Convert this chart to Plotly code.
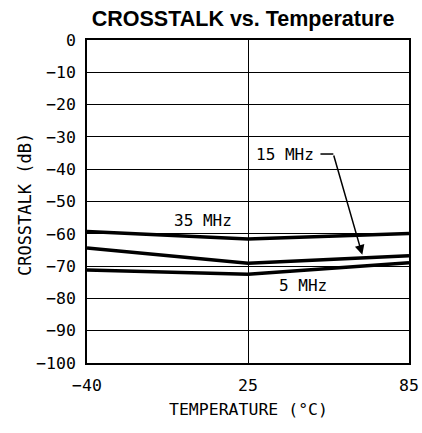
import plotly.graph_objects as go

temps = ["-40", "25", "85"]
temp_labels = ["\u221240", "25", "85"]
x_pos = [0, 1, 2]
xt_35 = [-59.3, -61.6, -59.9]
xt_15 = [-64.4, -69.1, -66.8]
xt_5 = [-71.2, -72.5, -69.0]
y_ticks = [0, -10, -20, -30, -40, -50, -60, -70, -80, -90, -100]
y_labels = ["0" if v == 0 else "\u2212" + str(-v) for v in y_ticks]

MONO = "DejaVu Sans Mono"

fig = go.Figure()
for ys in (xt_35, xt_15, xt_5):
    fig.add_trace(go.Scatter(x=x_pos, y=ys, mode="lines",
                             line=dict(color="black", width=3.5),
                             showlegend=False, hoverinfo="skip"))

font_lbl = dict(family=MONO, size=16, color="black")
fig.add_annotation(x=0.72, y=-56.0, text="35 MHz", showarrow=False, font=font_lbl)
fig.add_annotation(x=1.34, y=-76.0, text="5 MHz", showarrow=False, font=font_lbl)
fig.add_annotation(x=1.23, y=-35.5, text="15 MHz", showarrow=False, font=font_lbl)
# arrow leader from label
fig.add_shape(type="line", x0=1.45, x1=1.53, y0=-35.3, y1=-35.3,
              line=dict(color="black", width=1.5))
fig.add_annotation(x=1.71, y=-66.5, ax=1.53, ay=-35.3, axref="x", ayref="y",
                   xref="x", yref="y", text="", showarrow=True,
                   arrowhead=2, arrowsize=1.3, arrowwidth=1.5, arrowcolor="black")

# axis titles
fig.add_annotation(xref="paper", yref="paper", x=-0.1925, y=0.489,
                   xanchor="center", yanchor="middle",
                   text="CROSSTALK (dB)", textangle=-90, showarrow=False,
                   font=dict(family=MONO, size=17, color="black"))
fig.add_annotation(xref="paper", yref="paper", x=0.503, y=-0.1455,
                   xanchor="center", yanchor="middle",
                   text="TEMPERATURE (\u00b0C)", showarrow=False,
                   font=dict(family=MONO, size=16.5, color="black"))

fig.update_layout(
    width=422, height=433,
    margin=dict(l=87, r=13, t=40, b=70),
    paper_bgcolor="white", plot_bgcolor="white",
    title=dict(text="<b>CROSSTALK vs. Temperature</b>", x=0.576, xanchor="center",
               y=0.958, yanchor="middle",
               font=dict(family="Liberation Sans", size=21.5, color="black")),
    xaxis=dict(range=[0, 2], tickvals=x_pos, ticktext=temp_labels,
               showgrid=True, gridcolor="black", gridwidth=1.2,
               showline=True, linecolor="black", linewidth=1.5, mirror=True,
               zeroline=False, ticks="outside", ticklen=6, tickcolor="rgba(0,0,0,0)",
               automargin=False,
               tickfont=dict(family=MONO, size=16.5, color="black")),
    yaxis=dict(range=[-100, 0], tickvals=y_ticks, ticktext=y_labels,
               showgrid=True, gridcolor="black", gridwidth=1.2,
               showline=True, linecolor="black", linewidth=1.5, mirror=True,
               zeroline=False, ticks="outside", ticklen=6, tickcolor="rgba(0,0,0,0)",
               automargin=False,
               tickfont=dict(family=MONO, size=16.5, color="black")),
)

fig.write_html("out.html", config={"displayModeBar": False},
               post_script="document.body.style.margin='0';document.body.style.overflow='hidden';")
